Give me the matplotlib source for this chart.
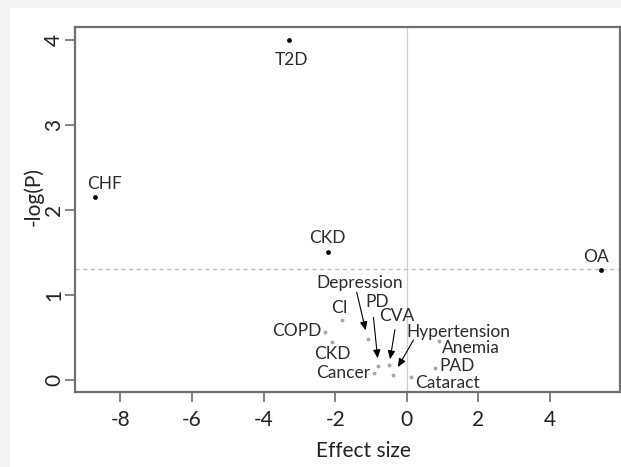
import matplotlib
matplotlib.use("Agg")
import matplotlib.pyplot as plt
from matplotlib.patches import Rectangle

plt.rcParams['font.family'] = ['Lato', 'DejaVu Sans']
plt.rcParams['axes.unicode_minus'] = False

# significant conditions (black)
sig_names = ['T2D', 'CHF', 'CKD', 'OA']
sig_effect = [-3.28, -8.71, -2.20, 5.43]
sig_logp = [4.00, 2.15, 1.51, 1.29]

# non significant conditions (grey)
ns_names = ['CI', 'COPD', 'CKD', 'Depression', 'PD', 'Cancer', 'CVA',
            'Hypertension', 'Anemia', 'PAD', 'Cataract']
ns_effect = [-1.82, -2.28, -2.09, -1.09, -0.79, -0.91, -0.49, -0.37, 0.91, 0.79, 0.11]
ns_logp = [0.71, 0.57, 0.45, 0.48, 0.16, 0.08, 0.18, 0.06, 0.46, 0.14, 0.03]

xticks = [-8, -6, -4, -2, 0, 2, 4]
yticks = [0, 1, 2, 3, 4]

# label offsets in pixels (dx right, dy down) from each point
sig_off = [(2, 20), (9, -13), (-1, -14), (-5, -13)]
ns_off = [(-2, -12), (-28, -1), (0, 12), (-8, -56), (-1, -64), (-31, 0), (8, -49),
          (65, -43), (32, 7), (22, -2), (37, 6)]
# arrows: (start, end) offsets in pixels
arrows = {
    'Depression': ((-11, -47), (-2, -9)),
    'PD': ((-5, -49), (-1.6, -8)),
    'CVA': ((5.7, -35), (2.4, -5)),
    'Hypertension': ((20, -35), (5, -7.5)),
}

W, H = 621, 467
fig = plt.figure(figsize=(W / 100, H / 100), dpi=100, facecolor='white')
# light grey page border on the left and top
fig.patches.append(Rectangle((0, 0), 10 / W, 1, transform=fig.transFigure,
                             facecolor='#f3f3f3', edgecolor='none'))
fig.patches.append(Rectangle((0, 459 / H), 1, 8 / H, transform=fig.transFigure,
                             facecolor='#f3f3f3', edgecolor='none'))

ax = fig.add_axes([75 / W, (H - 391.5) / H, 545 / W, 364.2 / H])
ax.set_xlim(-9.27, 5.96)
ax.set_ylim(-0.135, 4.149)

ax.axhline(1.301, color='#bdbdbd', lw=1.0, ls=(0, (3, 2.5)), zorder=1)
ax.axvline(0, color='#cfcfcf', lw=0.9, zorder=1)

ax.scatter(sig_effect, sig_logp, s=12, color='black', zorder=3, linewidths=0)
ax.scatter(ns_effect, ns_logp, s=8, color='#a8a8a8', zorder=3, linewidths=0)

k = 0.72  # px -> pt
txt = '#2b2b2b'
for n, x, y, (dx, dy) in zip(sig_names, sig_effect, sig_logp, sig_off):
    ax.annotate(n, (x, y), xytext=(dx * k, -dy * k), textcoords='offset points',
                ha='center', va='center', fontsize=12.5, color=txt)
for n, x, y, (dx, dy) in zip(ns_names, ns_effect, ns_logp, ns_off):
    ax.annotate(n, (x, y), xytext=(dx * k, -dy * k), textcoords='offset points',
                ha='center', va='center', fontsize=12.5, color=txt)
    if n in arrows:
        (sx, sy), (ex, ey) = arrows[n]
        ax.annotate('', xy=(x, y), xytext=(sx * k, -sy * k), textcoords='offset points',
                    arrowprops=dict(arrowstyle='-|>,head_length=0.5,head_width=0.22',
                                    color='black', lw=0.8, shrinkA=0,
                                    shrinkB=((ex ** 2 + ey ** 2) ** 0.5) * k))

for s in ax.spines.values():
    s.set_color('#707070')
    s.set_linewidth(1.6)
ax.set_xticks(xticks)
ax.set_yticks(yticks)
ax.tick_params(axis='both', colors='#707070', width=1.2, length=7, labelsize=15,
               labelcolor='#222222')
ax.tick_params(axis='x', pad=6)
ax.tick_params(axis='y', pad=1)
for lab in ax.get_yticklabels():
    lab.set_rotation(90)
    lab.set_va('center')

fig.text(363 / W, 1 - 451 / H, 'Effect size', ha='center', va='center',
         fontsize=15, color='#222222')
fig.text(33 / W, 1 - 196 / H, '-log(P)', ha='center', va='center', rotation=90,
         fontsize=15, color='#222222')

fig.savefig('out.png', dpi=100, facecolor=fig.get_facecolor())
